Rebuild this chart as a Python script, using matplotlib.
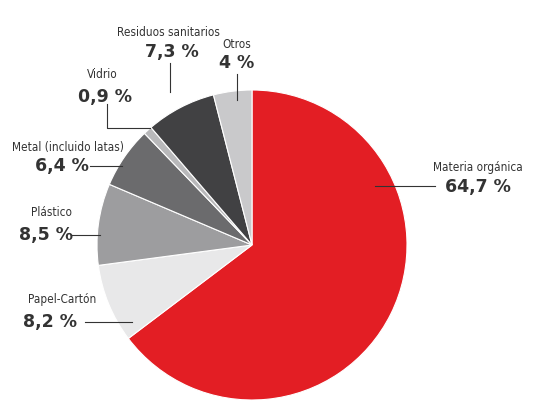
import matplotlib
matplotlib.use("Agg")
import matplotlib.pyplot as plt

labels = ["Materia orgánica", "Papel-Cartón", "Plástico", "Metal (incluido latas)",
          "Vidrio", "Residuos sanitarios", "Otros"]
values = [64.7, 8.2, 8.5, 6.4, 0.9, 7.3, 4.0]
value_text = ["64,7 %", "8,2 %", "8,5 %", "6,4 %", "0,9 %", "7,3 %", "4 %"]
colors = ["#e31e24", "#e8e8e9", "#9d9d9f", "#6b6b6d", "#b8b8ba", "#414143", "#c9c9cb"]

H = 409
fig = plt.figure(figsize=(5.34, 4.09), dpi=100)
ax = fig.add_axes([97 / 534, 9 / H, 310 / 534, 310 / H])
ax.pie(values, colors=colors, startangle=90, counterclock=False,
       wedgeprops=dict(edgecolor="white", linewidth=0.8))
ax.set_xlim(-1, 1)
ax.set_ylim(-1, 1)
ax.set_aspect("equal")

# label anchors in pixels from top-left
label_pos = [(478, 168), (62, 300), (52, 213), (68, 148), (102, 75), (168, 32), (237, 45)]
value_pos = [(478, 187), (50, 322), (46, 235), (62, 166), (105, 97), (172, 52), (237, 63)]
leaders = [[(375, 186), (435, 186)], [(85, 322), (132, 322)], [(72, 235), (100, 235)],
           [(90, 166), (122, 166)], [(107, 104), (107, 128), (150, 128)],
           [(170, 63), (170, 92)], [(237, 74), (237, 100)]]

for i in range(len(labels)):
    lx, ly = label_pos[i]
    fig.text(lx / 534, 1 - ly / H, labels[i], ha="center", va="center", fontsize=8.5,
             color="#333333", fontstretch="condensed")
    vx, vy = value_pos[i]
    fig.text(vx / 534, 1 - vy / H, value_text[i], ha="center", va="center",
             fontsize=12.5, fontweight="bold", color="#333333")
    pts = leaders[i]
    fig.add_artist(plt.Line2D([p[0] / 534 for p in pts], [1 - p[1] / H for p in pts],
                              color="#333333", linewidth=0.8, transform=fig.transFigure))

fig.savefig("out.png", dpi=100)
